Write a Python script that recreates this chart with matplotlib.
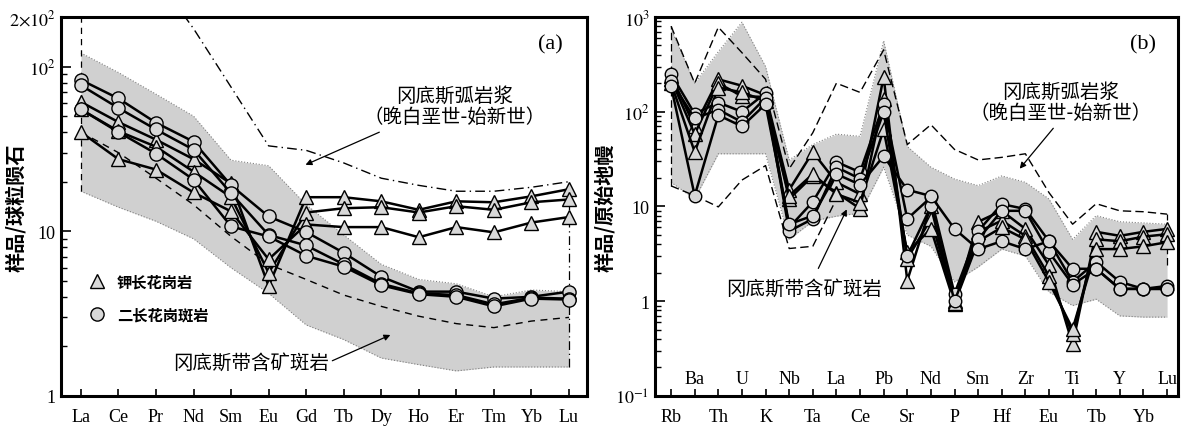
import numpy as np
import matplotlib.pyplot as plt
import matplotlib.transforms as mtransforms
from matplotlib.lines import Line2D
from matplotlib.ticker import FixedLocator, FixedFormatter, NullFormatter

plt.rcParams['font.family'] = ['Liberation Serif', 'Noto Sans CJK SC']
plt.rcParams['mathtext.fontset'] = 'stix'
CJK = ['Noto Sans CJK SC', 'DejaVu Sans']

# ---- (a) chondrite-normalised REE ----
ree = ['La', 'Ce', 'Pr', 'Nd', 'Sm', 'Eu', 'Gd', 'Tb', 'Dy', 'Ho', 'Er', 'Tm', 'Yb', 'Lu']

a_tri1 = [61, 46, 36, 27.4, 19.5, 4.65, 16.1, 16.1, 15.2, 13.5, 15.2, 15.0, 16.3, 18.0]
a_tri2 = [55, 40.5, 32.6, 23, 16.1, 5.6, 13.0, 13.8, 14.0, 13.0, 14.2, 13.5, 15.0, 15.6]
a_tri3 = [40, 27.4, 23.7, 17.2, 13.2, 6.75, 11.0, 10.6, 10.6, 9.2, 10.6, 9.85, 11.3, 12.2]
a_cir1 = [83, 64, 45.6, 35, 19, 12.3, 9.9, 7.4, 5.3, 4.3, 4.3, 3.9, 4.0, 4.3]
a_cir2 = [77, 56, 41.5, 31.3, 17, 9.5, 8.2, 6.3, 4.8, 4.2, 4.1, 3.6, 3.95, 3.9]
a_cir3 = [55, 40, 29.6, 20.6, 10.7, 9.3, 7.1, 6.1, 4.7, 4.15, 4.0, 3.5, 3.9, 3.85]

porph_a_hi = [121, 92, 68, 50, 27, 25, 14.5, 9.5, 6.3, 5.1, 4.8, 4.0, 4.4, 4.3]
porph_a_lo = [17.5, 14, 11.5, 9.0, 6.0, 4.2, 2.7, 2.2, 1.7, 1.55, 1.42, 1.5, 1.5, 1.5]
arc_a_hi = [700, 500, 350, 170, 75, 33, 31, 26, 21, 19, 17.5, 17.5, 18.5, 20]
arc_a_lo = [40, 30, 21, 14.5, 9.3, 6.3, 5.1, 4.1, 3.5, 3.05, 2.75, 2.6, 2.85, 3.0]

# ---- (b) primitive-mantle-normalised spider ----
spider = ['Rb', 'Ba', 'Th', 'U', 'K', 'Nb', 'Ta', 'La', 'Ce', 'Pb', 'Sr',
          'Nd', 'P', 'Sm', 'Hf', 'Zr', 'Eu', 'Ti', 'Tb', 'Y', 'Yb', 'Lu']

b_tri1 = [240, 70, 220, 188, 150, 15, 37.5, 18, 13.5, 233, 1.65, 10.2, 0.93, 6.9, 9.0, 5.8, 2.4, 0.35, 5.4, 4.9, 5.4, 5.8]
b_tri2 = [220, 58, 200, 146, 143, 12, 21, 14, 9.5, 137, 2.8, 7.4, 1.0, 5.4, 7.1, 4.9, 1.85, 0.45, 4.5, 4.3, 4.8, 5.1]
b_tri3 = [200, 37.6, 180, 160, 130, 13, 22, 13.5, 11, 65, 3.3, 5.8, 0.95, 4.3, 6.0, 4.5, 1.6, 0.51, 3.55, 3.55, 3.8, 4.2]
b_cir1 = [250, 95, 125, 100, 157, 6.0, 11.2, 29.5, 23, 120, 7.4, 12.5, 1.2, 5.5, 10.6, 9.4, 4.3, 1.6, 2.6, 1.6, 1.35, 1.45]
b_cir2 = [210, 85, 105, 78, 140, 5.5, 7.4, 26, 19.6, 100, 3.0, 10, 1.0, 4.5, 9.0, 9.0, 3.3, 1.5, 2.2, 1.35, 1.35, 1.35]
b_cir3 = [187, 13, 92, 70, 120, 6.5, 8, 22, 17, 34, 15, 12.9, 5.8, 3.55, 4.3, 3.55, 4.3, 2.2, 2.2, 1.35, 1.35, 1.35]

porph_b_hi = [750, 200, 430, 880, 300, 31, 45, 58, 55, 560, 43, 26, 19.5, 16.6, 21, 18, 12, 4.5, 8.0, 6.9, 6.7, 6.5]
porph_b_lo = [18, 12, 36, 36, 36, 4.5, 7, 7.9, 8.5, 26, 5.0, 3.8, 1.6, 2.3, 3.55, 3.0, 1.25, 0.9, 1.05, 0.7, 0.68, 0.68]
arc_b_hi = [800, 200, 780, 420, 220, 25, 60, 200, 160, 450, 45, 73, 40, 31, 33, 36, 14, 6.5, 10.7, 9.0, 8.8, 8.3]
arc_b_lo = [16.5, 13, 9.9, 19, 27, 3.6, 3.8, 12]
arc_b_lu_lo = 2.4

FIELD = '#d0d0d0'
MFACE = '#d8d8d8'

fig = plt.figure(figsize=(11.89, 4.27), dpi=100)
ax1 = fig.add_axes([0.0513, 0.0703, 0.4424, 0.8876])
ax2 = fig.add_axes([0.5509, 0.0703, 0.4398, 0.8876])


def style_axes(ax):
    for s in ax.spines.values():
        s.set_linewidth(2.2)
    ax.tick_params(axis='both', which='both', direction='in', top=False, right=False)
    ax.tick_params(axis='y', which='major', length=7, width=1.2, labelsize=13, pad=4)
    ax.tick_params(axis='y', which='minor', length=4, width=1)
    ax.tick_params(axis='x', which='major', length=5, width=1.2, labelsize=13, pad=9)


def draw_samples(ax, x, series, marker, ms):
    for vals in series:
        ax.plot(x, vals, color='black', lw=1.8, marker=marker, ms=ms,
                mfc=MFACE, mec='black', mew=1.0, zorder=5)


def draw_field(ax, x, lo, hi):
    ax.fill_between(x, lo, hi, color=FIELD, lw=0, zorder=1)
    ax.plot(x, hi, color='#808080', lw=0.8, ls=':', zorder=2)
    ax.plot(x, lo, color='#808080', lw=0.8, ls=':', zorder=2)


# ------------- panel (a) -------------
xa = np.arange(len(ree))
draw_field(ax1, xa, porph_a_lo, porph_a_hi)
ax1.plot(xa, arc_a_hi, color='black', lw=1.0, ls=(0, (7, 3, 1, 3)), zorder=3)
ax1.plot(xa, arc_a_lo, color='black', lw=1.0, ls=(0, (5, 4)), zorder=3)
ax1.plot([xa[0], xa[0]], [porph_a_lo[0], arc_a_hi[0]], color='black', lw=0.9, ls=(0, (5, 4)), zorder=3)
ax1.plot([xa[-1], xa[-1]], [porph_a_lo[-1], arc_a_hi[-1]], color='black', lw=0.9, ls=(0, (7, 3, 1, 3)), zorder=3)

draw_samples(ax1, xa, [a_tri1, a_tri2, a_tri3], '^', 10.5)
draw_samples(ax1, xa, [a_cir1, a_cir2, a_cir3], 'o', 9.5)

ax1.set_yscale('log')
ax1.set_ylim(1, 200)
ax1.set_xlim(-0.53, 13.48)
ax1.yaxis.set_major_locator(FixedLocator([1, 10, 100, 200]))
ax1.yaxis.set_major_formatter(FixedFormatter(['1', '10', r'$10^2$', r'$2{\times}10^2$']))
ax1.yaxis.set_minor_locator(FixedLocator([2, 3, 4, 5, 6, 7, 8, 9, 20, 30, 40, 50, 60, 70, 80, 90]))
ax1.yaxis.set_minor_formatter(NullFormatter())
ax1.set_xticks(xa)
ax1.set_xticklabels(ree)
style_axes(ax1)
ax1.set_ylabel('样品/球粒陨石', family=CJK, fontsize=14.5, fontweight='bold')
ax1.yaxis.set_label_coords(-0.066, 0.5)

ax1.text(0.93, 0.93, '(a)', transform=ax1.transAxes, fontsize=16, ha='center', va='center')
ax1.text(0.749, 0.765, '冈底斯弧岩浆\n（晚白垩世-始新世）', transform=ax1.transAxes,
         family=CJK, fontsize=14, ha='center', va='center', linespacing=1.0)
ax1.annotate('', xy=(0.460, 0.607), xytext=(0.610, 0.699), xycoords='axes fraction',
             arrowprops=dict(arrowstyle='-|>', color='black', lw=0.9, mutation_scale=9))
ax1.text(0.361, 0.09, '冈底斯带含矿斑岩', transform=ax1.transAxes,
         family=CJK, fontsize=14, ha='center', va='center')
ax1.annotate('', xy=(0.631, 0.164), xytext=(0.511, 0.09), xycoords='axes fraction',
             arrowprops=dict(arrowstyle='-|>', color='black', lw=0.9, mutation_scale=9))

handles = [Line2D([], [], ls='none', marker='^', ms=10.5, mfc=MFACE, mec='black'),
           Line2D([], [], ls='none', marker='o', ms=9.5, mfc=MFACE, mec='black')]
ax1.legend(handles, ['钾长花岗岩', '二长花岗斑岩'], loc='upper left', bbox_to_anchor=(0.025, 0.36),
           frameon=False, prop={'family': CJK, 'size': 11, 'weight': 'bold'},
           labelspacing=1.1, handletextpad=0.7, handlelength=1.2)

# ------------- panel (b) -------------
xb = np.arange(len(spider))
draw_field(ax2, xb, porph_b_lo, porph_b_hi)
ax2.plot(xb, arc_b_hi, color='black', lw=1.0, ls=(0, (6, 3)), zorder=3)
ax2.plot(xb[:len(arc_b_lo)], arc_b_lo, color='black', lw=1.0, ls=(0, (6, 3)), zorder=3)
ax2.plot([xb[0], xb[0]], [arc_b_lo[0], arc_b_hi[0]], color='black', lw=0.9, ls=(0, (6, 3)), zorder=3)
ax2.plot([xb[-1], xb[-1]], [arc_b_lu_lo, arc_b_hi[-1]], color='black', lw=0.9, ls=(0, (6, 3)), zorder=3)

draw_samples(ax2, xb, [b_tri1, b_tri2, b_tri3], '^', 9.5)
draw_samples(ax2, xb, [b_cir1, b_cir2, b_cir3], 'o', 9)

ax2.set_yscale('log')
ax2.set_ylim(0.1, 1000)
ax2.set_xlim(-0.68, 21.46)
ax2.yaxis.set_major_locator(FixedLocator([0.1, 1, 10, 100, 1000]))
ax2.yaxis.set_major_formatter(FixedFormatter([r'$10^{-1}$', '1', '10', r'$10^2$', r'$10^3$']))
minors = [m * 10.0 ** e for e in range(-1, 3) for m in range(2, 10)]
ax2.yaxis.set_minor_locator(FixedLocator(minors))
ax2.yaxis.set_minor_formatter(NullFormatter())
ax2.set_xticks(xb)
ax2.set_xticklabels([n if i % 2 == 0 else '' for i, n in enumerate(spider)])
style_axes(ax2)
trans = mtransforms.blended_transform_factory(ax2.transData, ax2.transAxes)
for i, n in enumerate(spider):
    if i % 2 == 1:
        ax2.text(xb[i], 0.045, n, transform=trans, fontsize=13, ha='center', va='center')
ax2.set_ylabel('样品/原始地幔', family=CJK, fontsize=14.5, fontweight='bold')
ax2.yaxis.set_label_coords(-0.076, 0.5)

ax2.text(0.933, 0.93, '(b)', transform=ax2.transAxes, fontsize=16, ha='center', va='center')
ax2.text(0.776, 0.776, '冈底斯弧岩浆\n（晚白垩世-始新世）', transform=ax2.transAxes,
         family=CJK, fontsize=14, ha='center', va='center', linespacing=1.0)
ax2.annotate('', xy=(0.694, 0.594), xytext=(0.765, 0.712), xycoords='axes fraction',
             arrowprops=dict(arrowstyle='-|>', color='black', lw=0.9, mutation_scale=9))
ax2.text(0.285, 0.285, '冈底斯带含矿斑岩', transform=ax2.transAxes,
         family=CJK, fontsize=14, ha='center', va='center')
ax2.annotate('', xy=(0.369, 0.499), xytext=(0.310, 0.330), xycoords='axes fraction',
             arrowprops=dict(arrowstyle='-|>', color='black', lw=0.9, mutation_scale=9))

fig.savefig('out.png', dpi=100)
